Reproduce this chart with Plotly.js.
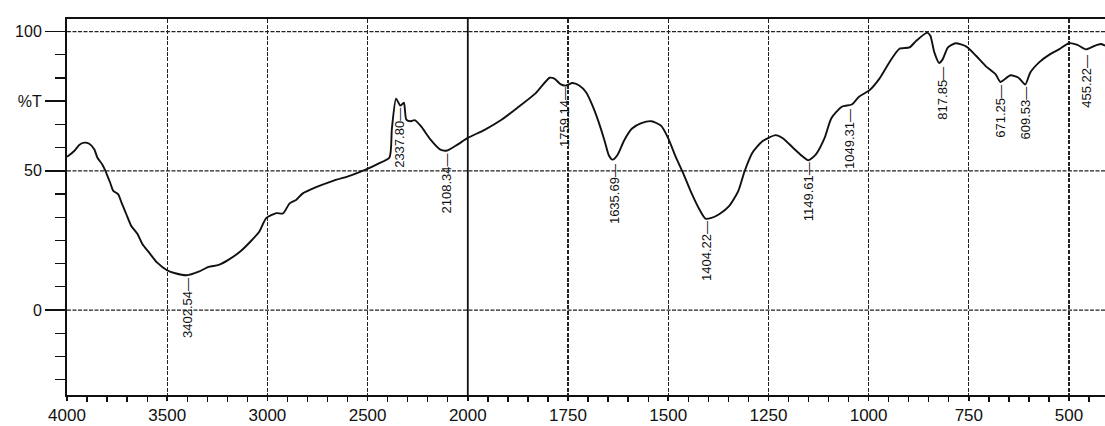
<!DOCTYPE html>
<html>
<head>
<meta charset="utf-8">
<script src="https://cdn.plot.ly/plotly-3.0.1.min.js"></script>
<style>
  html, body { margin: 0; padding: 0; background: #fff; }
  #chart { width: 1105px; height: 426px; }
</style>
</head>
<body>
<div id="chart"></div>
<script>
// ---- data ----
const wavenumber = [
  4000,3964,3939,3914,3889,3864,3848,3824,3808,3785,
  3769,3745,3728,3704,3680,3648,3624,3591,3551,3501,
  3460,3402,3343,3293,3243,3193,3134,3083,3040,3006,
  2955,2922,2889,2857,2825,2754,2669,2586,2510,2451,
  2391,2379,2358,2337,2319,2307,2284,2265,2234,2186,
  2137,2103,2052,2000,1958,1916,1873,1831,1796,1784,
  1768,1755,1739,1722,1705,1691,1675,1659,1648,1639,
  1627,1610,1591,1567,1542,1518,1501,1481,1462,1441,
  1421,1407,1392,1372,1347,1325,1309,1290,1265,1232,
  1215,1188,1165,1150,1132,1110,1093,1067,1042,1024,
  998,973,948,923,898,881,854,846,836,824,
  815,802,783,756,732,708,683,671,646,626,
  609,597,574,549,524,500,479,458,437,421,
  404
];
const transmittance = [
  55,57.1,59.3,60.1,59.7,57.7,54.7,52.3,49.9,45.8,
  42.8,41.6,38.6,34.4,30.3,27.3,23.7,20.7,17.1,14.3,
  13.2,12.5,13.8,15.5,16.2,18.1,21.1,24.7,28.2,33.0,
  34.8,34.7,38.3,39.5,41.8,44.2,46.5,48.3,50.4,52.4,
  54.8,65,75.9,73.4,74.5,68.4,67.8,68.2,66.0,61.2,
  57.6,57.3,59.4,61.8,64.7,68.3,73.0,77.8,83.4,83.1,
  81.0,80.6,81.5,80.6,78.2,74.1,68.1,60.9,55.5,54.0,
  55.6,60.9,65.1,67.1,67.8,66.2,62.0,54.9,48.9,41.7,
  35.8,32.8,33.1,34.5,37.5,42.8,50.0,56.5,60.6,62.8,
  61.8,58.2,55.2,53.8,55.8,61.7,68.9,73.0,73.8,76.6,
  78.9,83.1,89.0,93.8,94.3,96.7,99.6,98.5,92.5,88.7,
  90.1,94.3,95.8,94.6,91.3,87.6,84.6,81.9,84.3,83.4,
  81.0,85.2,89.0,91.7,93.7,95.8,95.2,93.6,94.8,95.5,
  94.6
];
const peakWavenumbers = [3402.54, 2337.80, 2108.34, 1759.14, 1635.69, 1404.22, 1149.61, 1049.31, 817.85, 671.25, 609.53, 455.22];
const peakLabelTop    = [11.8, 73.0, 56.6, 80.6, 52.7, 32.2, 53.5, 72.5, 87.8, 81.2, 80.5, 92.2];
const xTickLabels = [4000, 3500, 3000, 2500, 2000, 1750, 1500, 1250, 1000, 750, 500];
const yTickValues = [0, 50, 75, 100];
const yTickLabels = ['0', '50', '%T', '100'];

// ---- axis mapping: the instrument chart changes scale at 2000 cm-1 ----
function pos(w) { return w >= 2000 ? (4000 - w) / 500 : 4 + (2000 - w) / 250; }

const minorX = [];
for (let w = 3900; w > 2000; w -= 100) if (w % 500 !== 0) minorX.push(pos(w));
for (let w = 1950; w >= 400; w -= 50) if (w % 250 !== 0) minorX.push(pos(w));
const minorY = [];
for (let k = -3; k <= 12; k++) if (![0, 6, 9, 12].includes(k)) minorY.push(k * 50 / 6);

const FONT = 'Liberation Sans, Arial, sans-serif';

const trace = {
  x: wavenumber.map(pos),
  y: transmittance,
  type: 'scatter',
  mode: 'lines',
  line: { color: '#111', width: 1.9, shape: 'spline', smoothing: 0.6 },
  hoverinfo: 'skip'
};

const annotations = peakWavenumbers.map((w, i) => ({
  x: pos(w), y: peakLabelTop[i], xref: 'x', yref: 'y',
  text: w.toFixed(2) + '—',
  showarrow: false, textangle: -90,
  xanchor: 'center', yanchor: 'top', borderpad: 0,
  font: { family: FONT, size: 13, color: '#111' }
}));

const gridDash = '4px,1.5px';
const shapes = [
  // solid line at the scale break
  { type: 'line', xref: 'x', yref: 'paper', x0: pos(2000), x1: pos(2000), y0: 0, y1: 1,
    line: { color: '#111', width: 1.8 } }
].concat([0, 50, 100].map(v => ({
  type: 'line', xref: 'paper', yref: 'y', x0: 0, x1: 1, y0: v, y1: v,
  line: { color: '#222', width: 1.3, dash: gridDash }, layer: 'below'
})));

const layout = {
  width: 1105, height: 426,
  margin: { l: 67, r: 0, t: 19, b: 31 },
  paper_bgcolor: '#fff', plot_bgcolor: '#fff',
  showlegend: false,
  xaxis: {
    range: [0, 10.359],
    tickmode: 'array',
    tickvals: xTickLabels.map(pos),
    ticktext: xTickLabels.map(String),
    ticks: 'outside', ticklen: 4, tickwidth: 1.5, tickcolor: '#111',
    tickfont: { family: FONT, size: 17, color: '#111' },
    showgrid: true, gridcolor: '#222', gridwidth: 1.3, griddash: gridDash,
    showline: true, linecolor: '#111', linewidth: 2, mirror: true,
    zeroline: false,
    minor: { tickmode: 'array', tickvals: minorX, ticks: 'outside', ticklen: 5, tickwidth: 1.3, tickcolor: '#111', showgrid: false }
  },
  yaxis: {
    range: [-30.5, 104.5],
    tickmode: 'array',
    tickvals: yTickValues,
    ticktext: yTickLabels,
    ticks: 'outside', ticklen: 20, tickwidth: 1.5, tickcolor: '#111',
    tickfont: { family: FONT, size: 16, color: '#111' },
    showgrid: false,
    showline: true, linecolor: '#111', linewidth: 2, mirror: false,
    zeroline: false,
    minor: { tickmode: 'array', tickvals: minorY, ticks: 'outside', ticklen: 10, tickwidth: 1.3, tickcolor: '#111', showgrid: false }
  },
  shapes: shapes,
  annotations: annotations
};

Plotly.newPlot('chart', [trace], layout, { staticPlot: true, displayModeBar: false });
</script>
</body>
</html>
